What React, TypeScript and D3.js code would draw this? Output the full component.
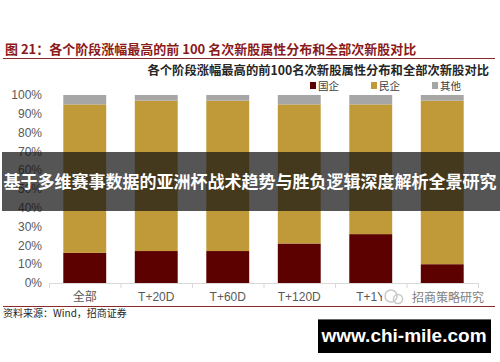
import * as d3 from 'd3'

// categories and stacked shares (%)
const categories = ['全部', 'T+20D', 'T+60D', 'T+120D', 'T+1Y', 'T+2Y']
const stateOwned = [16, 17, 17, 21, 26, 10]
const privateOwned = [79, 80, 80, 74, 69, 87]
const others = [5, 3, 3, 5, 5, 3]
const seriesNames = ['国企', '民企', '其他']
const seriesColors = ['#5c0000', '#c09a38', '#a6a6a6']
const yTicks = [0, 10, 20, 30, 40, 50, 60, 70, 80, 90, 100]

const W = 500
const H = 362
const margin = { top: 95, right: 22, bottom: 79, left: 49 }

export default function App() {
  const innerW = W - margin.left - margin.right
  const innerH = H - margin.top - margin.bottom

  const x = d3.scaleBand<string>().domain(categories).range([0, innerW]).paddingInner(0.4).paddingOuter(0.2)
  const y = d3.scaleLinear().domain([0, 100]).range([innerH, 0])

  const rows = categories.map((c, i) => ({ cat: c, s0: stateOwned[i], s1: privateOwned[i], s2: others[i] }))
  const stacked = d3.stack<any>().keys(['s0', 's1', 's2'])(rows)

  const step = innerW / categories.length
  const bounds = d3.range(categories.length + 1).map((i) => i * step)

  const sans = '"Noto Sans CJK SC", "Noto Sans", sans-serif'
  const latin = '"Liberation Sans", Arial, sans-serif'

  return (
    <div style={{ position: 'absolute', left: 0, top: 0 }}>
      <svg width={W} height={H} style={{ display: 'block', background: '#fff' }}>
        {/* figure title */}
        <text x={5} y={54} fill="#8b1a1a" fontSize={13} fontWeight={700} fontFamily={sans}>
          图 21：各个阶段涨幅最高的前 100 名次新股属性分布和全部次新股对比
        </text>
        <line x1={3} x2={495} y1={58.5} y2={58.5} stroke="#8b2a2a" strokeWidth={1} />

        {/* chart title */}
        <text x={489} y={75} textAnchor="end" fill="#262626" fontSize={12.3} fontWeight={700} fontFamily={sans}>
          各个阶段涨幅最高的前100名次新股属性分布和全部次新股对比
        </text>

        {/* legend */}
        {seriesNames.map((n, i) => {
          const lx = [310, 371, 432][i]
          return (
            <g key={n}>
              <rect x={lx} y={82} width={6} height={7} fill={seriesColors[i]} />
              <text x={lx + 8} y={89.5} fontSize={10.5} fill="#404040" fontFamily={sans}>{n}</text>
            </g>
          )
        })}

        <g transform={`translate(${margin.left},${margin.top})`}>
          {/* y axis labels */}
          {yTicks.map((t) => (
            <text key={t} x={-7} y={y(t)} dy="0.35em" textAnchor="end" fontSize={12} fill="#595959" fontFamily={latin}>
              {t}%
            </text>
          ))}

          {/* stacked bars */}
          {stacked.map((layer, li) =>
            layer.map((d, i) => (
              <rect
                key={`${li}-${i}`}
                x={x(categories[i])}
                y={y(d[1])}
                width={x.bandwidth()}
                height={y(d[0]) - y(d[1])}
                fill={seriesColors[li]}
              />
            ))
          )}

          {/* x axis */}
          <line x1={0} x2={innerW} y1={innerH + 0.5} y2={innerH + 0.5} stroke="#d9d9d9" />
          {bounds.map((b, i) => (
            <line key={i} x1={b + 0.5} x2={b + 0.5} y1={innerH} y2={innerH + 5} stroke="#d9d9d9" />
          ))}
          {categories.map((c) => (
            <text
              key={c}
              x={(x(c) ?? 0) + x.bandwidth() / 2}
              y={innerH + 18}
              textAnchor="middle"
              fontSize={12}
              fill="#595959"
              fontFamily={c === '全部' ? sans : latin}
            >
              {c}
            </text>
          ))}
        </g>

        {/* wechat watermark */}
        <rect x={382} y={288} width={108} height={17} fill="#fff" opacity={0.92} />
        <circle cx={391} cy={296} r={6} fill="none" stroke="#c8c8c8" strokeWidth={1.5} />
        <circle cx={398} cy={299} r={4.5} fill="none" stroke="#c8c8c8" strokeWidth={1.5} />
        <text x={412} y={302} fontSize={12} fill="#7f7f7f" fontFamily={sans}>招商策略研究</text>

        {/* source line */}
        <line x1={3} x2={495} y1={306.5} y2={306.5} stroke="#8b2a2a" strokeWidth={1} />
        <text x={3} y={317} fontSize={10} fill="#262626" fontFamily={sans}>资料来源：Wind，招商证券</text>

        {/* overlay banner */}
        <rect x={2} y={152} width={498} height={59} fill="rgba(20,20,20,0.72)" />
        <text x={250} y={182} dy="0.35em" textAnchor="middle" fontSize={17} fontWeight={700} fill="#fff" fontFamily={sans}>
          基于多维赛事数据的亚洲杯战术趋势与胜负逻辑深度解析全景研究
        </text>

        {/* site badge */}
        <rect x={318} y={319} width={173} height={34} fill="#000" />
        <line x1={318} x2={491} y1={319.5} y2={319.5} stroke="#666" />
        <text x={404} y={342} textAnchor="middle" fontSize={19} fontWeight={700} fill="#fff" fontFamily={latin}>
          www.chi-mile.com
        </text>
      </svg>
    </div>
  )
}
